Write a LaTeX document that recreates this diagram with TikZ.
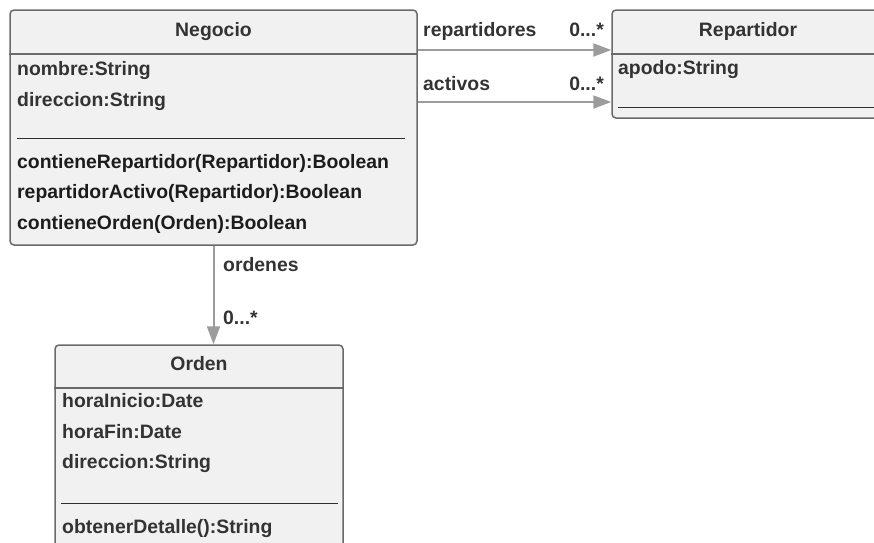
\documentclass[tikz,border=0pt]{standalone}
\usepackage{fontspec}
\setmainfont{Liberation Sans}
\usetikzlibrary{arrows.meta}
\definecolor{boxfill}{HTML}{F1F1F1}
\definecolor{boxline}{HTML}{6A6A6A}
\definecolor{rulecol}{HTML}{2E2E2E}
\definecolor{assoccol}{HTML}{9C9C9C}
\definecolor{attrtext}{HTML}{333333}
\definecolor{optext}{HTML}{1C1C1C}
\tikzset{
  classbox/.style={draw=boxline, fill=boxfill, line width=1.5pt, rounded corners=4pt, inner sep=0pt},
  headrule/.style={draw=boxline, line width=1.5pt},
  seprule/.style={draw=rulecol, line width=0.8pt},
  txt/.style={anchor=base west, inner sep=0pt, font=\fontsize{19.4}{23}\selectfont\bfseries},
  attr/.style={txt, text=attrtext},
  oper/.style={txt, text=optext},
  title/.style={anchor=base, inner sep=0pt, font=\fontsize{19.4}{23}\selectfont\bfseries, text=attrtext},
  rolelbl/.style={txt, text=attrtext},
  assoc/.style={draw=assoccol, line width=2pt, -{Triangle[width=13pt,length=18pt]}},
}
\begin{document}
\begin{tikzpicture}[x=1pt,y=-1pt]
\useasboundingbox (0,0) rectangle (874,542);
\clip (0,0) rectangle (874,542);

% class boxes
\node[classbox, minimum width=407pt, minimum height=235pt] (negocio) at (213.5,127.5) {};
\node[classbox, minimum width=268pt, minimum height=108pt] (repartidor) at (746,64) {};
\node[classbox, minimum width=288pt, minimum height=220pt] (orden) at (199,455) {};

% Negocio
\draw[headrule] (negocio.west |- 0,54) -- (negocio.east |- 0,54);
\node[title] (negTitle) at (213.5,36) {Negocio};
\node[attr] (negA1) at (17,75) {nombre:String};
\node[attr] (negA2) at (17,106) {direccion:String};
\draw[seprule] (17,138) -- (405,138);
\node[oper] (negO1) at (17,168) {contieneRepartidor(Repartidor):Boolean};
\node[oper] (negO2) at (17,198.5) {repartidorActivo(Repartidor):Boolean};
\node[oper] (negO3) at (17,229) {contieneOrden(Orden):Boolean};

% Repartidor
\draw[headrule] (repartidor.west |- 0,54) -- (repartidor.east |- 0,54);
\node[title] (repTitle) at (748,36) {Repartidor};
\node[attr] (repA1) at (618,74) {apodo:String};
\draw[seprule] (618,107) -- (880,107);

% Orden
\draw[headrule] (orden.west |- 0,388) -- (orden.east |- 0,388);
\node[title] (ordTitle) at (199,370) {Orden};
\node[attr] (ordA1) at (62,407) {horaInicio:Date};
\node[attr] (ordA2) at (62,438) {horaFin:Date};
\node[attr] (ordA3) at (62,468.5) {direccion:String};
\draw[seprule] (61,503) -- (338,503);
\node[attr] (ordO1) at (62,533) {obtenerDetalle():String};

% associations
\draw[assoc] (negocio.east |- 0,50) -- (repartidor.west |- 0,50);
\draw[assoc] (negocio.east |- 0,102) -- (repartidor.west |- 0,102);
\draw[assoc] (negocio.south) -- (negocio.south |- orden.north);

% role names and multiplicities
\node[rolelbl] (lblRep) at (423,36) {repartidores};
\node[rolelbl, anchor=base east] (mulRep) at (604,36) {0...*};
\node[rolelbl] (lblAct) at (423,90) {activos};
\node[rolelbl, anchor=base east] (mulAct) at (604,90) {0...*};
\node[rolelbl] (lblOrd) at (223,271) {ordenes};
\node[rolelbl] (mulOrd) at (223,324) {0...*};
\end{tikzpicture}
\end{document}
